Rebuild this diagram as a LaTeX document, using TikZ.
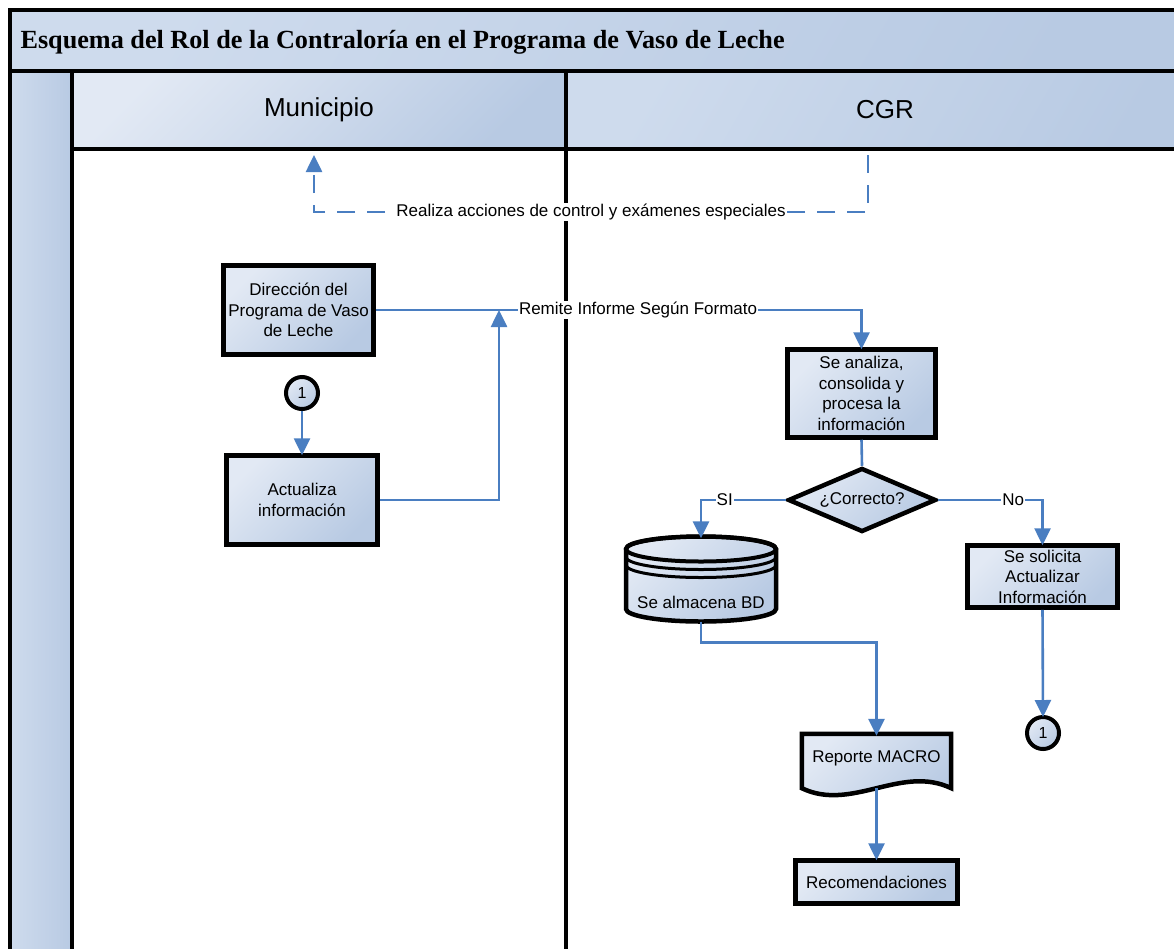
\documentclass[tikz,border=0pt]{standalone}
\usepackage{fontspec}
\setmainfont{Liberation Serif}
\setsansfont{Liberation Sans}
\usepackage{xcolor}
\usepackage{tikz}
\usetikzlibrary{arrows.meta,positioning,shapes.geometric}

\definecolor{laneLight}{RGB}{226,233,244}
\definecolor{laneDark}{RGB}{184,202,227}
\definecolor{poolLight}{RGB}{206,219,237}
\definecolor{flowBlue}{RGB}{74,126,193}

\begin{document}
\begin{tikzpicture}[x=1pt, y=-1pt,
        shaded/.style={left color=laneLight, right color=laneDark, shading angle=45},
        poolshade/.style={left color=poolLight, right color=laneDark, shading angle=60},
        frame/.style={line width=4pt, black},
        proc/.style={draw, line width=4.5pt, shaded, align=center, inner sep=2pt, font=\sffamily\fontsize{17}{20.5}\selectfont},
        conn/.style={draw=flowBlue, line width=2.6pt},
        flow/.style={conn, -{Triangle[length=17pt,width=16pt]}, shorten >=-2pt},
        lbl/.style={fill=white, inner sep=1pt, font=\sffamily\fontsize{17}{20.5}\selectfont},
        onpage/.style={draw, line width=4pt, circle, shaded, inner sep=0pt, minimum size=32pt, font=\sffamily\fontsize{16}{18}\selectfont}]
        \useasboundingbox (0,0) rectangle (1174,948);
        \clip (0,0) rectangle (1174,948);
        \fill[white] (0,0) rectangle (1174,948);

        % pool and lanes
        \shade[poolshade] (10,10) rectangle (1210,71);
        \shade[left color=poolLight, right color=laneDark] (10,71) rectangle (72,960);
        \shade[shaded] (72,71) rectangle (566,149);
        \shade[poolshade] (566,71) rectangle (1210,149);
        \draw[frame] (10,960) -- (10,10) -- (1210,10);
        \draw[frame] (10,71) -- (1210,71);
        \draw[frame] (72,71) -- (72,960);
        \draw[frame] (72,149) -- (1210,149);
        \draw[frame] (566,71) -- (566,960);

        \node[anchor=west, font=\bfseries\fontsize{26.2}{30}\selectfont] (title) at (17,42) {Esquema del Rol de la Contraloría en el Programa de Vaso de Leche};
        \node[font=\sffamily\fontsize{26}{30}\selectfont] (muni) at (319,110) {Municipio};
        \node[font=\sffamily\fontsize{26}{30}\selectfont] (cgr) at (885,110) {CGR};

        % Municipio
        \node[proc, minimum width=150pt, minimum height=89pt] (dir) at (298.5,310) {Dirección del\\Programa de Vaso\\de Leche};
        \node[onpage] (conL) at (302,393) {1};
        \node[proc, minimum width=151pt, minimum height=89pt] (act) at (302,500) {Actualiza\\información};

        % CGR
        \node[proc, minimum width=148pt, minimum height=88pt] (proc) at (861.5,393.5) {Se analiza,\\consolida y\\procesa la\\información};
        \node[draw, line width=4.5pt, diamond, aspect=2.3, shaded, inner sep=0pt, minimum width=148pt, minimum height=64pt, font=\sffamily\fontsize{17}{20.5}\selectfont] (check) at (862,500) {¿Correcto?};
        \node[proc, minimum width=150pt, minimum height=62pt] (ask) at (1042.5,576.5) {Se solicita\\Actualizar\\Información};
        \node[onpage] (conR) at (1043,733) {1};

        \node[minimum width=150pt, minimum height=85pt] (bd) at (701,579) {};
        \path[shaded, draw, line width=4.5pt] ([shift={(-75,-30)}]bd.center) -- ++(0,60)
            arc[start angle=180, end angle=0, x radius=75, y radius=12.5] -- ++(0,-60)
            arc[start angle=0, end angle=-180, x radius=75, y radius=12.5] -- cycle;
        \draw[line width=4pt] ([yshift=30pt]bd.center) ellipse[x radius=75, y radius=12.5];
        \draw[line width=3pt] ([shift={(-75,-22)}]bd.center) arc[start angle=180, end angle=0, x radius=75, y radius=12.5];
        \draw[line width=3pt] ([shift={(-75,-14)}]bd.center) arc[start angle=180, end angle=0, x radius=75, y radius=12.5];
        \node[font=\sffamily\fontsize{17}{20.5}\selectfont] (bdtext) at ([yshift=-23pt]bd.center) {Se almacena BD};

        \node[minimum width=149pt, minimum height=54pt] (rep) at (876.5,761) {};
        \path[shaded, draw, line width=4.5pt] (rep.north west) -- (rep.south west)
            .. controls +(50,24) and +(-50,-24) .. (rep.south east) -- (rep.north east) -- cycle;
        \node[font=\sffamily\fontsize{17}{20.5}\selectfont] (reptext) at ([yshift=3pt]rep.center) {Reporte MACRO};
        \node[proc, minimum width=162pt, minimum height=43pt] (rec) at (876.5,882) {Recomendaciones};

        % connectors
        \coordinate (ctlA) at (868,155);
        \coordinate (ctlB) at (868,212);
        \coordinate (ctlC) at (314,212);
        \coordinate (ctlD) at (314,157);
        \draw[flow, dash pattern=on 18pt off 12pt] (ctlA) -- (ctlB) -- node[lbl] {Realiza acciones de control y exámenes especiales} (ctlC) -- (ctlD);

        \coordinate (join) at (499,310);
        \draw[flow] (dir.east) -| node[lbl, pos=0.27] {Remite Informe Según Formato} (proc.north);
        \draw[flow, shorten >=0pt] (act.east) -| (join);
        \draw[flow] (conL.south) -- (act.north);
        \draw[conn] (proc.south) -- (check.north);
        \draw[flow] (check.west) -| node[lbl, pos=0.36] {SI} (bd.north);
        \draw[flow] (check.east) -| node[lbl, pos=0.36] {No} (ask.north);
        \draw[flow] (ask.south) -- (conR.north);
        \draw[flow] (bd.south) -- ++(0,21) -| (rep.north);
        \draw[flow] (rep.south) -- (rec.north);
    \end{tikzpicture}
\end{document}
